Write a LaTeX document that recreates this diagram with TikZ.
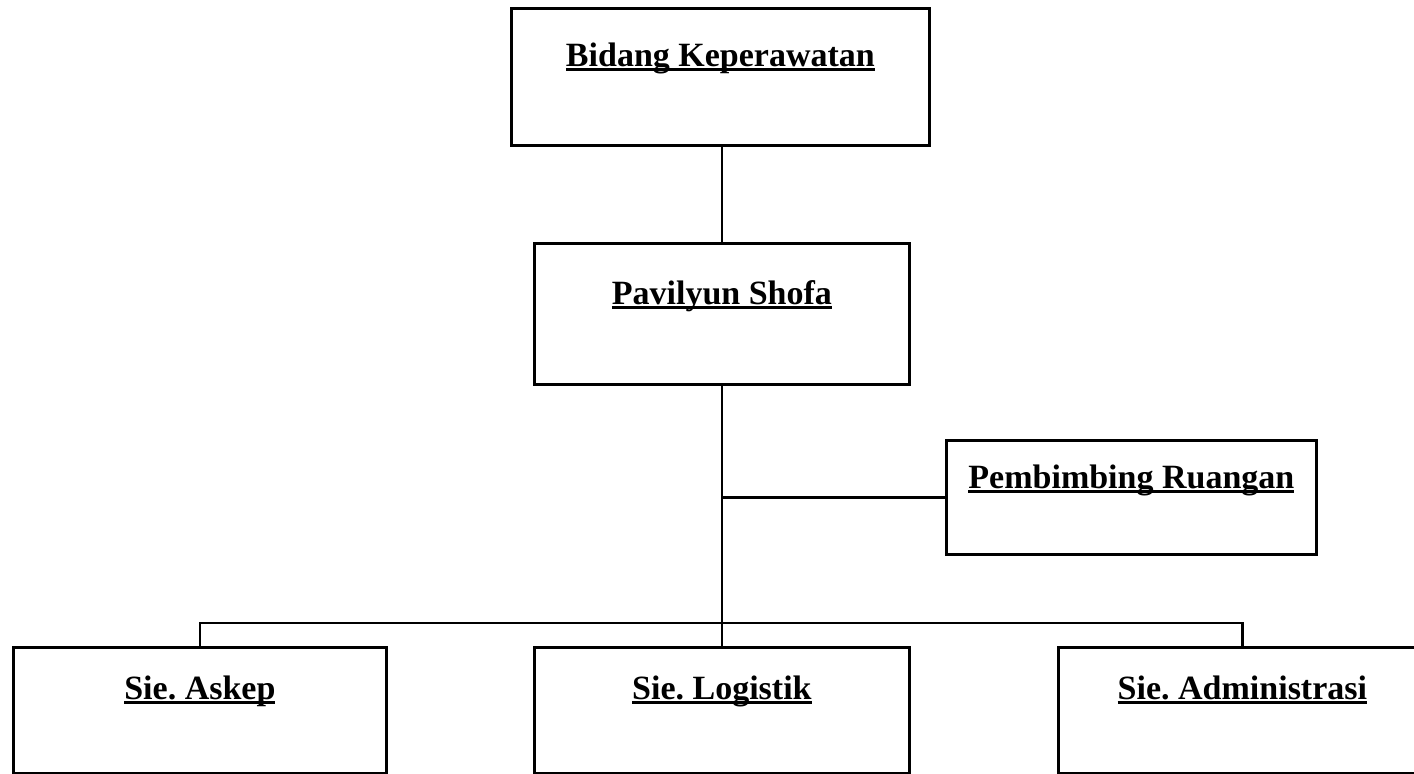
\documentclass[tikz,border=0pt]{standalone}
\usepackage{fontspec}
\setmainfont{Liberation Serif}
\frenchspacing
\usetikzlibrary{positioning,calc}
% underline set close under the baseline, through the descenders
\newcommand{\ultext}[1]{\setbox0=\hbox{#1}\rlap{\rule[-2.2pt]{\wd0}{1.2pt}}\box0}
\tikzset{
  unit/.style={draw,line width=1.4pt,inner sep=0pt,anchor=north west,
    font=\fontsize{17}{20}\selectfont\bfseries},
  link/.style={line width=1.2pt},
}

\begin{document}
\begin{tikzpicture}[x=0.5pt,y=-0.5pt]
  \fill[white] (0,0) rectangle (1414,773);
  \useasboundingbox (0,0) rectangle (1414,773);
  \node[unit,minimum width=209pt,text height=29pt,text depth=39.5pt] (bidang) at (510,7)
    {\ultext{Bidang Keperawatan}};
  \node[unit,minimum width=187.5pt,text height=30.5pt,text depth=40pt] (pavilyun) at (533,242)
    {\ultext{Pavilyun Shofa}};
  \node[unit,minimum width=185pt,text height=24pt,text depth=33pt] (pembimbing) at (945,439)
    {\ultext{Pembimbing Ruangan}};
  \node[unit,minimum width=186.5pt,text height=26pt,text depth=37pt] (askep) at (12,646)
    {\ultext{Sie. Askep}};
  \node[unit,minimum width=187.5pt,text height=26pt,text depth=37pt] (logistik) at (533,646)
    {\ultext{Sie. Logistik}};
  \node[unit,minimum width=184pt,text height=26pt,text depth=37pt] (admin) at (1057,646)
    {\ultext{Sie. Administrasi}};
  \coordinate (bus) at (0,623);
  \draw[link] (pavilyun.north) -- (pavilyun.north |- bidang.south);
  \draw[link] (pavilyun.south) -- (logistik.north);
  \draw[link] (pembimbing.west) -- (pembimbing.west -| pavilyun.south);
  \draw[link] (askep.north) -- (askep.north |- bus) -- (admin.north |- bus) -- (admin.north);
\end{tikzpicture}
\end{document}
